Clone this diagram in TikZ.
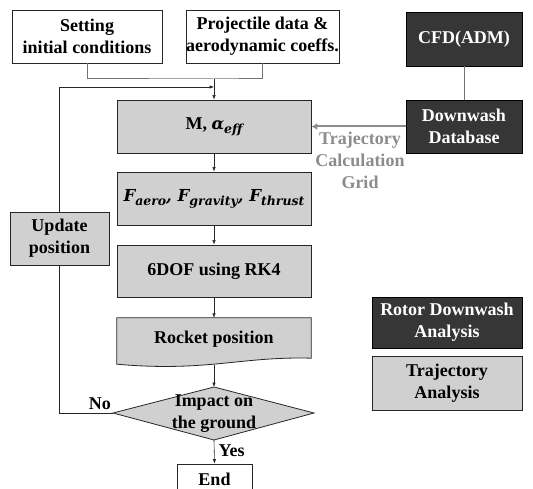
\documentclass[tikz,border=0pt]{standalone}
\usepackage{fontspec}
\setmainfont{Liberation Serif}
\newfontfamily\mathlike{DejaVu Serif}
\usetikzlibrary{arrows.meta,calc}
\definecolor{boxgray}{HTML}{D0D0D0}
\definecolor{boxdark}{HTML}{363636}
\definecolor{txtgray}{HTML}{8C8C8C}
\newcommand{\mysub}[1]{\raisebox{-4pt}{\fontsize{12.5}{13}\selectfont #1}}
\newcommand{\mvar}[1]{{\mathlike\bfseries\itshape\fontsize{16.5}{20}\selectfont #1}}
\begin{document}
\begin{tikzpicture}[x=1pt,y=-1pt,
  every node/.style={font=\bfseries\fontsize{18}{22}\selectfont, align=center, inner sep=0pt},
  whitebox/.style={draw=black!85, line width=0.8pt, fill=white},
  graybox/.style={draw=black!85, line width=0.8pt, fill=boxgray},
  darkbox/.style={draw=black, line width=0.8pt, fill=boxdark, text=white},
  flow/.style={draw=black!85, line width=0.6pt, -{Latex[length=4.5pt,width=3.5pt]}},
  plain/.style={draw=black!85, line width=0.6pt},
  grayline/.style={draw=black!55, line width=1pt},
  grayarrow/.style={draw=black!45, line width=2pt, -{Latex[length=6pt,width=7pt]}}
]
\useasboundingbox (0,0) rectangle (533,489);
% top boxes
\node[whitebox, minimum width=150pt, minimum height=53pt] (b1) at (87,36.5) {Setting\\initial conditions};
\node[whitebox, minimum width=153pt, minimum height=53pt] (b2) at (262.5,36.5) {Projectile data \&\\aerodynamic coeffs.};
\node[darkbox, minimum width=116pt, minimum height=54pt] (cfd) at (464,39) {CFD(ADM)};
\node[darkbox, minimum width=116pt, minimum height=53pt] (dw) at (464,126.5) {Downwash\\Database};
% main column
\node[graybox, minimum width=194pt, minimum height=53pt] (m) at (214,126.5) {M, \mvar{α\mysub{eff}}};
\node[graybox, minimum width=194pt, minimum height=53pt] (f) at (214,198.5) {\mvar{F\mysub{aero}, F\mysub{gravity}, F\mysub{thrust}}};
\node[graybox, minimum width=99pt, minimum height=53pt] (u) at (59.5,238.5) {Update\\position};
\node[graybox, minimum width=194pt, minimum height=52pt] (dof) at (214,271) {6DOF using RK4};
% rocket position (document shape)
\node[minimum width=194pt, minimum height=42pt] (rp) at (214,339) {};
\fill[boxgray, draw=black!85, line width=0.8pt]
  (rp.north west) -- (rp.north east) -- ($(rp.south east)+(0,-2)$)
  .. controls ($(rp.south east)+(-70,-4)$) and ($(rp.south west)+(90,12)$) .. ($(rp.south west)+(0,4)$) -- cycle;
\node at (rp.center) {Rocket position};
\coordinate (rpb) at ($(rp.south)+(0,5)$);
% decision diamond
\coordinate (dt) at (214,387);
\coordinate (db) at (214,440);
\coordinate (dl) at (113,413);
\coordinate (dr) at (314,413);
\fill[boxgray, draw=black!85, line width=0.8pt] (dt) -- (dr) -- (db) -- (dl) -- cycle;
\node (imp) at (214,414) {Impact on\\the ground};
% end
\node[whitebox, minimum width=75pt, minimum height=30pt] (end) at (214.5,479) {End};
% legend
\node[darkbox, minimum width=150pt, minimum height=51pt] (lg1) at (447,322.5) {Rotor Downwash\\Analysis};
\node[graybox, minimum width=150pt, minimum height=54pt] (lg2) at (447,383) {Trajectory\\Analysis};
% connectors
\coordinate (mj) at (m.north |- 0,79);
\coordinate (fb) at (m.north |- 0,87);
\draw[grayline] (b1.south) |- (mj) -| (b2.south);
\draw[flow] (mj) -- (m.north);
\draw[flow] (u.north) |- (fb);
\draw[flow] (m.south) -- (f.north);
\draw[flow] (f.south) -- (dof.north);
\draw[flow] (dof.south) -- (rp.north);
\draw[flow] (rpb) -- (dt);
\draw[flow] (db) -- (end.north) node[pos=0.45, right=4pt] {Yes};
\draw[plain] (dl) -| (u.south);
\node[anchor=south east] (no) at ($(dl)+(-2,-3)$) {No};
\draw[grayline, line width=0.8pt] (cfd.south) -- (dw.north);
\draw[grayarrow] (dw.west) -- (m.east);
\node[text=txtgray] (grid) at (360,160) {Trajectory\\Calculation\\Grid};
\end{tikzpicture}
\end{document}
